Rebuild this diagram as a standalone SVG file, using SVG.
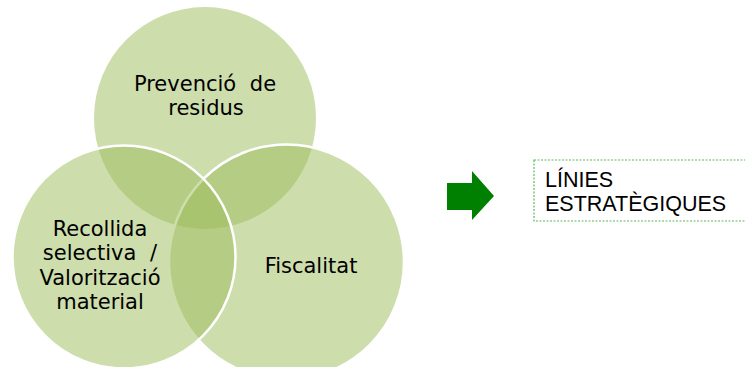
<svg xmlns="http://www.w3.org/2000/svg" width="745" height="367" viewBox="0 0 745 367">
<style>
.c{fill:#9bbb59;fill-opacity:0.5}
.s{stroke:#ffffff;stroke-width:2.5}
.t{font-family:"DejaVu Sans",Verdana,sans-serif;font-size:21px;fill:#000;text-anchor:middle}
.b{font-family:"Liberation Sans",Arial,sans-serif;font-size:21.5px;fill:#000}
</style>
<rect width="745" height="367" fill="#ffffff"/>
<g id="prevencio">
<circle class="c" cx="205" cy="118" r="111"/>
<text class="t" x="205" y="91" word-spacing="7">Prevenció de</text>
<text class="t" x="206" y="115">residus</text>
</g>
<g id="fiscalitat">
<circle class="c s" cx="286.5" cy="262" r="117.5"/>
</g>
<g id="recollida">
<circle class="c s" cx="124" cy="257" r="111.5"/>
</g>
<g id="labels">
<text class="t" x="311" y="273">Fiscalitat</text>
<text class="t" x="100" y="236">Recollida</text>
<text class="t" x="100" y="260" word-spacing="7">selectiva /</text>
<text class="t" x="100" y="285">Valorització</text>
<text class="t" x="100" y="309">material</text>
</g>
<g id="connectors">
<polygon points="447,183 472,183 472,171 494,196 472,220 472,210 447,210" fill="#008000"/>
</g>
<g id="linies">
<rect x="534" y="160" width="220" height="61" fill="none" stroke="#5cb85c" stroke-width="1.2" stroke-dasharray="2,1.5"/>
<text class="b" x="545" y="187">LÍNIES</text>
<text class="b" x="545" y="211">ESTRATÈGIQUES</text>
</g>
</svg>
